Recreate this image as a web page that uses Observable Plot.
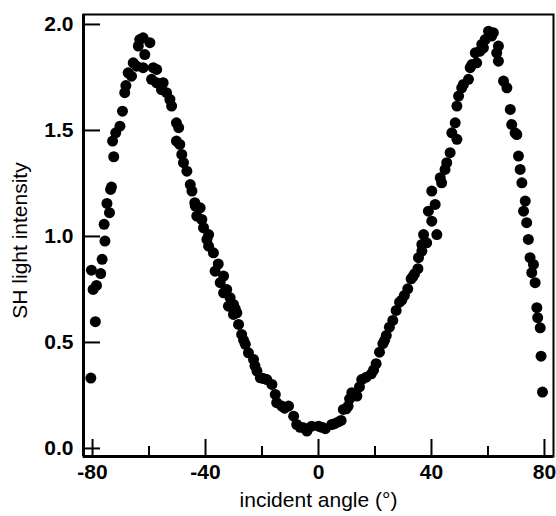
<!DOCTYPE html>
<html>
<head>
<meta charset="utf-8">
<script src="https://cdn.jsdelivr.net/npm/d3@7"></script>
<script src="https://cdn.jsdelivr.net/npm/@observablehq/plot@0.6"></script>
<style>
  html, body { margin: 0; padding: 0; background: #fff; }
  #chart svg { display: block; }
</style>
</head>
<body>
<div id="chart"></div>
<script>
// incident angle (degrees)
const angle = [
  -80.6, -79.0, -80.4, -79.8, -78.6, -77.1, -76.6, -75.6, -75.9, -74.0,
  -74.9, -73.6, -73.3, -72.5, -72.9, -71.8, -70.3, -69.4, -68.6, -68.2,
  -67.4, -66.2, -65.6, -64.4, -63.8, -63.3, -62.1, -59.7, -61.5, -62.1,
  -58.5, -57.3, -59.1, -57.3, -55.0, -55.6, -53.8, -52.6, -52.0, -50.3,
  -49.5, -50.3, -49.1, -48.4, -47.8, -46.6, -45.4, -44.8, -43.8, -43.6,
  -41.9, -43.1, -41.3, -40.7, -38.9, -39.5, -38.9, -37.2, -36.6, -33.6,
  -34.8, -33.6, -31.3, -30.1, -31.9, -28.9, -30.1, -28.3, -27.2, -25.9,
  -24.8, -23.0, -21.8, -20.6, -18.3, -16.5, -15.3, -14.8, -13.0, -10.6,
  -8.8, -7.7, -5.3, -4.1, -2.4, 0.0, 2.4, 4.7, 5.7, 8.0,
  8.8, 9.8, 11.0, 11.8, 13.6, 15.3, 16.9, 18.7, 20.4, 21.6,
  22.8, 24.0, 25.1, 26.3, 27.5, 28.7, 30.4, 31.6, 32.8, 34.0,
  35.2, 35.4, 36.6, 38.3, 36.6, 37.2, 41.9, 40.1, 38.9, 41.3,
  40.1, 43.6, 43.1, 44.8, 45.4, 46.6, 49.0, 47.2, 48.4, 49.0,
  49.6, 50.7, 51.3, 53.1, 53.7, 54.3, 56.0, 55.5, 57.2, 57.8,
  59.0, 58.4, 60.2, 61.9, 61.3, 63.7, 63.1, 63.7, 65.5, 66.7,
  67.9, 68.4, 69.6, 70.2, 70.8, 71.4, 72.0, 73.2, 72.6, 73.7,
  74.3, 74.9, 76.1, 75.5, 76.7, 77.3, 77.6, 78.5, 78.8, 79.3,
  -35.5, -32.5, -29.5, -26.5, -22.5, -19.5, -12.0, -6.5, 1.2, 7.0,
  10.5, 14.5, 19.5, 23.4, 29.5, 33.4
];
// SH light intensity
const intensity = [
  0.332, 0.598, 0.841, 0.750, 0.769, 0.825, 0.892, 0.978, 1.057, 1.112,
  1.156, 1.222, 1.233, 1.376, 1.450, 1.489, 1.520, 1.591, 1.678, 1.712,
  1.772, 1.756, 1.819, 1.803, 1.898, 1.929, 1.937, 1.914, 1.858, 1.796,
  1.796, 1.788, 1.741, 1.725, 1.725, 1.693, 1.678, 1.646, 1.615, 1.536,
  1.513, 1.450, 1.434, 1.387, 1.348, 1.308, 1.245, 1.214, 1.159, 1.143,
  1.135, 1.096, 1.080, 1.041, 1.009, 0.986, 0.954, 0.923, 0.836, 0.813,
  0.782, 0.734, 0.711, 0.679, 0.671, 0.640, 0.632, 0.585, 0.538, 0.491,
  0.451, 0.420, 0.365, 0.333, 0.325, 0.302, 0.255, 0.216, 0.200, 0.200,
  0.152, 0.113, 0.098, 0.082, 0.105, 0.105, 0.093, 0.113, 0.117, 0.132,
  0.184, 0.187, 0.234, 0.263, 0.247, 0.325, 0.336, 0.352, 0.400, 0.454,
  0.494, 0.533, 0.572, 0.604, 0.651, 0.690, 0.722, 0.753, 0.800, 0.824,
  0.848, 0.900, 0.931, 0.970, 0.962, 1.009, 1.009, 1.072, 1.119, 1.151,
  1.214, 1.253, 1.277, 1.316, 1.348, 1.395, 1.458, 1.489, 1.536, 1.615,
  1.662, 1.701, 1.717, 1.741, 1.796, 1.811, 1.819, 1.866, 1.874, 1.906,
  1.929, 1.890, 1.968, 1.961, 1.945, 1.898, 1.866, 1.827, 1.733, 1.701,
  1.599, 1.528, 1.489, 1.481, 1.379, 1.316, 1.253, 1.167, 1.119, 1.065,
  0.986, 0.900, 0.868, 0.829, 0.782, 0.664, 0.617, 0.569, 0.435, 0.266,
  0.870, 0.750, 0.660, 0.510, 0.390, 0.330, 0.190, 0.100, 0.100, 0.125,
  0.200, 0.290, 0.370, 0.510, 0.700, 0.810
];
const xMajorTicks = [-80, -40, 0, 40, 80];
const xMinorTicks = [-60, -20, 20, 60];
const yTicks = [0.0, 0.5, 1.0, 1.5, 2.0];

const data = angle.map((a, i) => ({angle: a, intensity: intensity[i]}));

const W = 556, H = 516;
const mL = 83, mR = 3, mT = 14, mB = 60;
const plotW = W - mL - mR, plotH = H - mT - mB;
const xDomain = [-83.2, 83.2];
const yDomain = [-0.038, 2.047];

const chart = Plot.plot({
  width: W,
  height: H,
  marginLeft: mL,
  marginRight: mR,
  marginTop: mT,
  marginBottom: mB,
  style: {fontFamily: "'Liberation Sans', Arial, Helvetica, sans-serif", color: "#000", background: "#fff"},
  x: {domain: xDomain},
  y: {domain: yDomain},
  marks: [
    Plot.frame({stroke: "#000", strokeWidth: 2}),
    Plot.ruleX([xDomain[0]], {stroke: "#000", strokeWidth: 3}),
    Plot.ruleY([yDomain[0]], {stroke: "#000", strokeWidth: 3}),
    Plot.axisX(xMajorTicks, {
      tickSize: 0, tickPadding: 8, fontSize: 21, fontWeight: "bold",
      tickFormat: d => String(d), label: null
    }),
    Plot.axisY(yTicks, {
      tickSize: 0, tickPadding: 10, fontSize: 21, fontWeight: "bold",
      tickFormat: d => d.toFixed(1), label: null
    }),
    Plot.text(["incident angle (°)"], {
      frameAnchor: "bottom", dy: 50, fontSize: 21, fill: "#000", text: d => d
    }),
    Plot.text(["SH light intensity"], {
      frameAnchor: "left", dx: -63, dy: 5, rotate: -90, textAnchor: "middle",
      fontSize: 21, fill: "#000", text: d => d
    }),
    Plot.tickY(yTicks, {y: d => d, stroke: "#000", strokeWidth: 2, insetRight: plotW - 17}),
    Plot.tickX(xMajorTicks, {x: d => d, stroke: "#000", strokeWidth: 2, insetTop: plotH - 17}),
    Plot.tickX(xMinorTicks, {x: d => d, stroke: "#000", strokeWidth: 2, insetTop: plotH - 10}),
    Plot.dot(data, {x: "angle", y: "intensity", r: 5.5, fill: "#000", stroke: "none"})
  ]
});

document.getElementById("chart").appendChild(chart);
</script>
</body>
</html>
